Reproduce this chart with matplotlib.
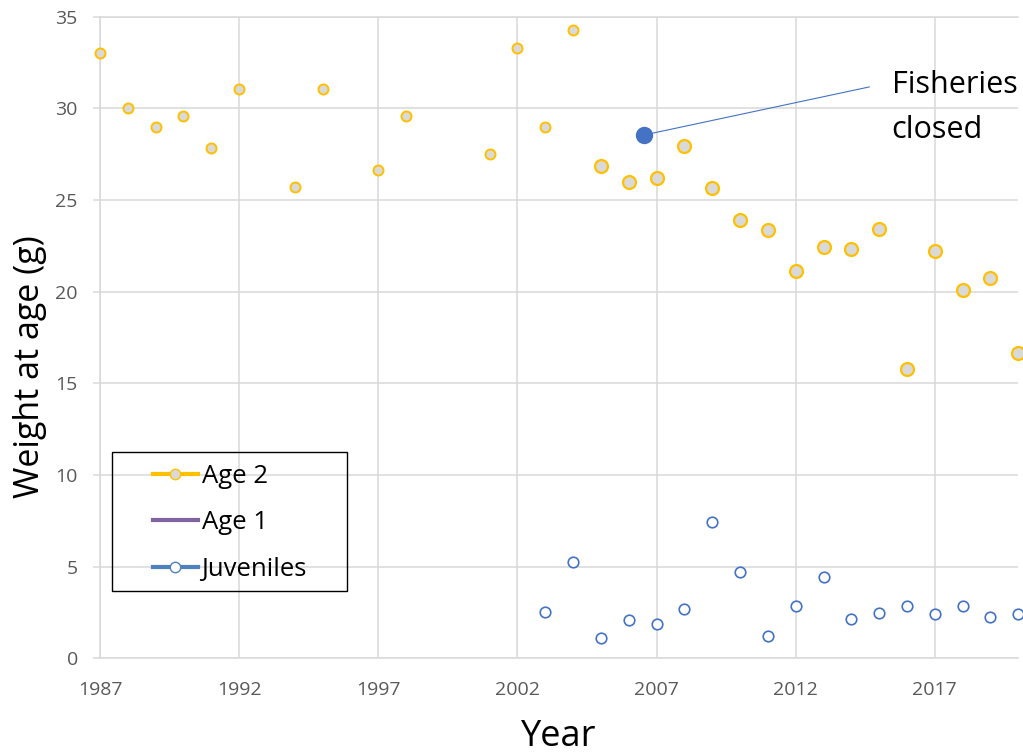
import matplotlib
matplotlib.use("Agg")
import matplotlib.pyplot as plt
from matplotlib.lines import Line2D
from matplotlib.patches import Rectangle
import numpy as np

plt.rcParams['font.family'] = ['Open Sans', 'DejaVu Sans']

# ---- data ----
age2_years = [1987, 1988, 1989, 1990, 1991, 1992, 1994, 1995, 1997, 1998,
              2001, 2002, 2003, 2004, 2005, 2006, 2007, 2008, 2009, 2010,
              2011, 2012, 2013, 2014, 2015, 2016, 2017, 2018, 2019, 2020]
age2_weight = [33.0, 30.0, 29.0, 29.6, 27.86, 31.04, 25.69, 31.08, 26.64, 29.57,
               27.53, 33.31, 28.99, 34.3, 26.87, 25.98, 26.19, 27.93, 25.66, 23.89,
               23.38, 21.13, 22.42, 22.33, 23.42, 15.77, 22.22, 20.09, 20.77, 16.67]
age1_years = []
age1_weight = []
juv_years = [2003, 2004, 2005, 2006, 2007, 2008, 2009, 2010, 2011, 2012,
             2013, 2014, 2015, 2016, 2017, 2018, 2019, 2020]
juv_weight = [2.54, 5.25, 1.11, 2.11, 1.85, 2.69, 7.45, 4.71, 1.23, 2.85,
              4.44, 2.13, 2.45, 2.87, 2.40, 2.85, 2.27, 2.43]
closure_year = 2006.56
closure_weight = 28.55
label_point = (2014.65, 31.17)
label_text = "Fisheries\nclosed"
x_ticks = [1987, 1992, 1997, 2002, 2007, 2012, 2017]
y_ticks = [0, 5, 10, 15, 20, 25, 30, 35]

# ---- style ----
ORANGE = '#FFC000'
GREY_FILL = '#D9D9D9'
BLUE = '#4472C4'
LEG_BLUE = '#4F81BD'
PURPLE = '#8064A2'
GRID = '#D9D9D9'
TICK_TXT = '#595959'

W, H = 1023, 753
fig = plt.figure(figsize=(W / 100, H / 100), dpi=100)
ax = fig.add_axes([100 / W, 1 - 658.3 / H, 918.3 / W, 641.6 / H])
ax.set_xlim(1987, 2020)
ax.set_ylim(0, 35)
ax.set_xticks(x_ticks)
ax.set_yticks(y_ticks)
ax.grid(True, color=GRID, lw=1.1)
ax.set_axisbelow(True)
ax.spines['right'].set_visible(False)
for s in ['left', 'bottom', 'top']:
    ax.spines[s].set_color(GRID)
    ax.spines[s].set_linewidth(1.1)
ax.tick_params(axis='y', length=5, color=GRID, width=1.1, pad=11,
               labelsize=14, labelcolor=TICK_TXT)
ax.tick_params(axis='x', length=0, pad=16, labelsize=14, labelcolor=TICK_TXT)

# Age 2 markers (smaller before 2005, larger after)
a2y = np.array(age2_years)
a2w = np.array(age2_weight)
early = a2y < 2005
ax.plot(a2y[early], a2w[early], ls='none', marker='o', ms=7.2, mfc=GREY_FILL,
        mec=ORANGE, mew=1.4, clip_on=False, zorder=3)
ax.plot(a2y[~early], a2w[~early], ls='none', marker='o', ms=9.3, mfc=GREY_FILL,
        mec=ORANGE, mew=1.6, clip_on=False, zorder=3)
ax.plot(age1_years, age1_weight, color=PURPLE)
ax.plot(juv_years, juv_weight, ls='none', marker='o', ms=7.6, mfc='white',
        mec=BLUE, mew=1.2, clip_on=False, zorder=3)

# Fisheries closed marker + annotation
ax.plot([closure_year], [closure_weight], marker='o', ms=11.5, color=BLUE,
        ls='none', zorder=4)
ax.annotate('', xy=(closure_year, closure_weight), xytext=label_point,
            arrowprops=dict(arrowstyle='-', color=BLUE, lw=0.8,
                            shrinkA=0, shrinkB=4))
ax.text(2015.45, 28.39, label_text, fontsize=22, color='black', ha='left',
        va='baseline', linespacing=1.66)

# axis labels
fig.text(30 / W, 1 - 367 / H, 'Weight at age (g)', rotation=90, ha='center',
         va='center', fontsize=24.5, color='black')
fig.text(559 / W, 1 - 746 / H, 'Year', ha='center', va='baseline',
         fontsize=26, color='black')

# legend frame
fig.patches.append(Rectangle((111.7 / W, 1 - 590.7 / H), 235.3 / W, 139 / H,
                             transform=fig.transFigure, fill=False,
                             edgecolor='black', lw=1.0))
handles = [
    Line2D([], [], color=ORANGE, lw=3, marker='o', ms=7.5, mfc=GREY_FILL,
           mec=ORANGE, mew=1.0),
    Line2D([], [], color=PURPLE, lw=3),
    Line2D([], [], color=LEG_BLUE, lw=3, marker='o', ms=7.5, mfc='white',
           mec=LEG_BLUE, mew=1.0),
]
fig.legend(handles, ['Age 2', 'Age 1', 'Juveniles'], loc='upper left',
           bbox_to_anchor=(152.7 / W, 1 - 464 / H), frameon=False,
           fontsize=18.5, handlelength=1.75, handletextpad=0.15,
           labelspacing=0.83, borderpad=0, borderaxespad=0)

fig.savefig('out.png', dpi=100)
